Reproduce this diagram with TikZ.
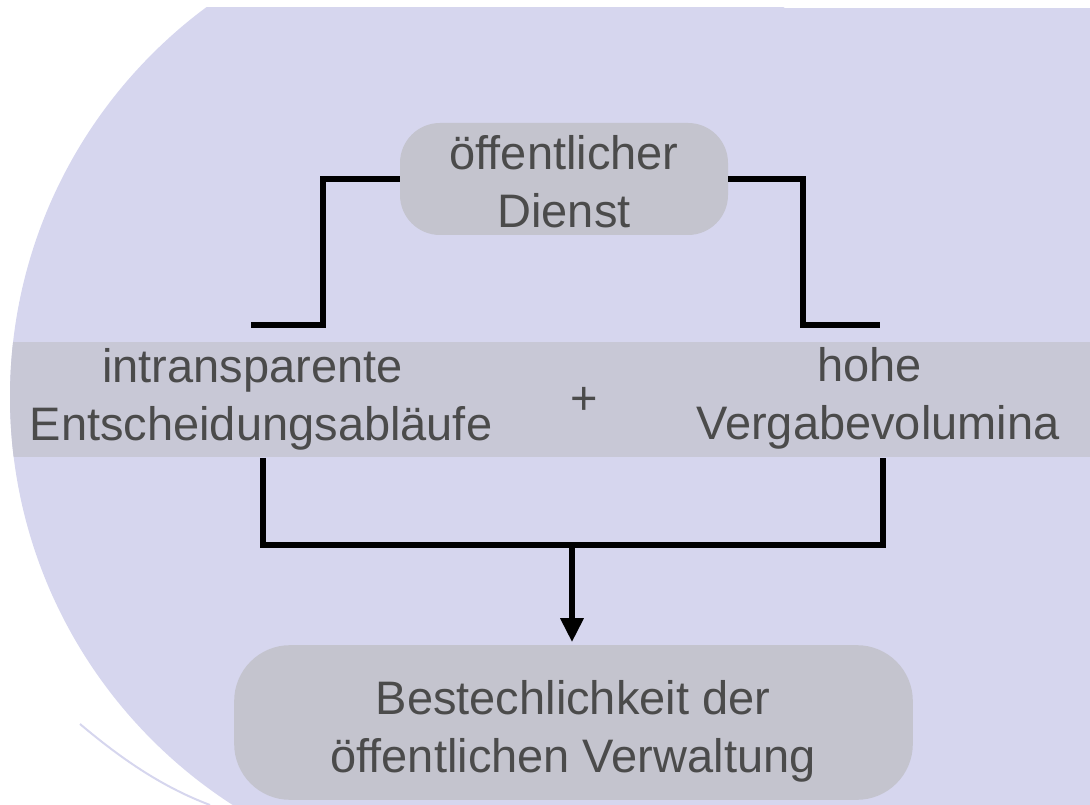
\documentclass[tikz,border=0pt]{standalone}
\usepackage{fontspec}
\setmainfont{Liberation Sans}
\usetikzlibrary{arrows.meta}
\definecolor{lav}{RGB}{214,214,238}
\definecolor{bandc}{RGB}{200,200,214}
\definecolor{pillc}{RGB}{196,196,206}
\definecolor{txtc}{RGB}{75,75,75}
\begin{document}
\begin{tikzpicture}[x=0.75pt,y=-0.75pt,
  txt/.style={font=\fontsize{35.25}{43.5}\selectfont, text=txtc, inner sep=0pt, anchor=base},
  pill/.style={fill=pillc, draw=none, rounded corners=#1, inner sep=0pt},
  conn/.style={line width=4.9pt, draw=black},
  tip/.style={-{Triangle[width=16.5pt,length=18pt]}, shorten >=2pt}]
\useasboundingbox (0,0) rectangle (1090,805);
% background
\begin{scope}
  \clip (0,8) rectangle (1090,805);
  \fill[lav] (495,397) circle (485);
  \fill[lav] (494,8) rectangle (1090,805);
  \begin{scope}
    \clip (495,397) circle (485);
    \fill[bandc] (0,342) rectangle (496,457);
  \end{scope}
  \fill[bandc] (495,342) rectangle (1090,457);
\end{scope}
\draw[lav, line width=1.5pt] (80,724) .. controls (125,762) and (165,788) .. (210,805);
% shapes
\node[pill=30pt, minimum width=246pt, minimum height=84pt] (topbox) at (564,179) {};
\node[pill=42pt, minimum width=509pt, minimum height=116pt] (botbox) at (573.5,722.5) {};
% texts
\node[txt] (toptext) at (564,170) {\begin{tabular}[t]{@{}c@{}}öffentlicher\\Dienst\end{tabular}};
\node[txt] (lefttext) at (261,383) {\begin{tabular}[t]{@{}c@{}}intransparente\hspace*{0.36em}\\Entscheidungsabläufe\end{tabular}};
\node[txt] (righttext) at (878,382) {\begin{tabular}[t]{@{}c@{}}hohe\hspace*{0.36em}\\Vergabevolumina\end{tabular}};
\node[txt, anchor=center] (plus) at (584,401) {+};
\node[txt] (bottext) at (573,715) {\begin{tabular}[t]{@{}c@{}}Bestechlichkeit der\\öffentlichen Verwaltung\end{tabular}};
% connectors
\coordinate (tl) at (251,325);
\coordinate (tr) at (880,325);
\coordinate (lb) at (263,458);
\coordinate (rb) at (883,458);
\coordinate (mid) at (572,545);
\draw[conn] (topbox.west) -| (323,325) -- (tl);
\draw[conn] (topbox.east) -| (803,325) -- (tr);
\draw[conn] (lb) |- (mid) -| (rb);
\draw[conn, tip] (mid) -- (mid |- botbox.north);
\end{tikzpicture}
\end{document}
